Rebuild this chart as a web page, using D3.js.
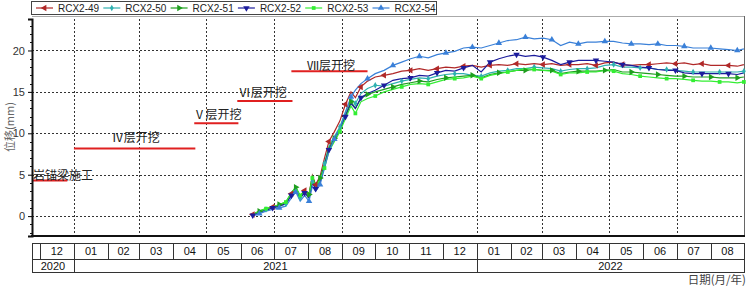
<!DOCTYPE html>
<html>
<head>
<meta charset="utf-8">
<script src="https://cdn.jsdelivr.net/npm/d3@7"></script>
<style>
  body { margin: 0; background: #fff; }
  svg { display: block; font-family: Arial, "Liberation Sans", sans-serif; }
</style>
</head>
<body>
<div id="chart"></div>
<script>
// observation dates (shared by all six points)
var dates = ["2021-06-12","2021-06-18","2021-06-24","2021-06-30","2021-07-06","2021-07-12","2021-07-17","2021-07-21",
  "2021-07-25","2021-07-29","2021-08-02","2021-08-05","2021-08-08","2021-08-12","2021-08-16","2021-08-20",
  "2021-08-25","2021-08-30","2021-09-04","2021-09-09","2021-09-13","2021-09-18","2021-09-24",
  "2021-10-01","2021-10-09","2021-10-17","2021-10-25","2021-11-02","2021-11-10","2021-11-18","2021-11-26",
  "2021-12-04","2021-12-12","2021-12-20","2021-12-28","2022-01-05","2022-01-13","2022-01-21","2022-01-29",
  "2022-02-06","2022-02-14","2022-02-22","2022-03-02","2022-03-10","2022-03-18","2022-03-26","2022-04-03",
  "2022-04-11","2022-04-19","2022-04-27","2022-05-05","2022-05-13","2022-05-21","2022-05-29","2022-06-06",
  "2022-06-14","2022-06-22","2022-06-30","2022-07-08","2022-07-16","2022-07-24","2022-08-01","2022-08-09",
  "2022-08-17","2022-08-25","2022-08-31"];

var rcx49 = [0.2,0.6,0.8,1.1,1.3,1.6,2.7,3.4,2.4,3.1,2.6,4.9,3.8,4.8,7.0,9.0,10.2,11.5,13.5,15.0,14.3,15.6,16.3,
  16.8,17.0,17.2,17.5,17.6,17.8,17.6,17.8,18.0,17.9,18.1,18.2,18.0,18.2,18.3,18.2,18.4,18.3,18.4,18.3,18.4,18.2,
  18.3,18.3,18.4,18.2,18.5,18.6,18.3,18.2,18.3,18.3,18.4,18.5,18.4,18.5,18.3,18.4,18.2,18.2,18.2,18.1,18.3];
var rcx50 = [0.1,0.5,0.8,1.0,1.2,1.5,2.6,3.2,2.2,2.9,2.3,4.2,3.5,4.3,6.4,8.4,9.6,10.8,12.6,14.2,13.6,14.8,15.4,
  15.8,15.7,16.0,16.3,16.5,16.7,16.6,16.9,17.1,17.2,17.2,17.0,16.9,17.3,17.5,17.6,17.8,17.8,18.0,17.9,17.8,17.5,
  17.7,17.8,17.8,17.9,18.2,18.3,18.0,18.0,17.9,17.9,17.7,17.7,17.6,17.5,17.4,17.4,17.4,17.4,17.4,17.4,17.5];
var rcx51 = [0.2,0.6,0.9,1.1,1.4,1.7,2.8,3.5,2.4,3.1,2.6,4.8,3.7,4.6,6.2,8.2,9.4,10.5,12.2,13.8,13.0,14.2,14.7,
  15.0,15.3,15.6,15.9,16.1,16.3,16.2,16.5,16.7,16.8,16.9,17.0,16.7,17.1,17.3,17.4,17.6,17.6,17.7,17.6,17.6,17.2,
  17.4,17.5,17.5,17.5,17.6,17.7,17.4,17.4,17.3,17.2,17.1,17.0,16.9,16.9,16.8,16.8,16.8,16.7,16.7,16.7,16.8];
var rcx52 = [0.1,0.5,0.7,1.0,1.2,1.5,2.5,3.1,2.2,2.8,2.2,4.0,3.3,4.1,6.0,8.0,9.2,10.4,12.0,13.6,13.0,14.3,14.8,
  15.2,15.8,16.4,16.6,16.7,17.0,16.9,17.3,17.6,17.5,17.9,18.2,17.4,18.6,19.0,19.3,19.5,19.3,19.4,19.2,18.8,18.3,
  18.6,18.8,18.8,18.8,18.7,18.6,18.3,18.2,18.0,17.9,17.7,17.6,17.6,17.3,17.2,17.2,17.2,17.2,17.2,17.1,17.3];
var rcx53 = [0.2,0.6,0.9,1.1,1.4,1.7,2.8,3.5,2.5,3.1,2.5,4.6,3.6,4.4,5.8,7.8,9.0,10.2,11.8,13.3,12.4,13.8,14.2,
  14.5,15.0,15.3,15.6,15.9,16.0,15.9,16.2,16.5,16.6,16.7,16.9,16.6,17.0,17.2,17.4,17.6,17.8,17.7,17.6,17.5,17.1,
  17.3,17.3,17.4,17.4,17.6,17.5,17.2,17.1,16.9,16.8,16.7,16.6,16.6,16.5,16.4,16.3,16.3,16.2,16.2,16.1,16.2];
var rcx54 = [0.0,0.3,0.6,0.8,1.0,1.2,2.2,2.9,1.8,2.5,1.8,3.6,3.0,3.8,5.8,7.8,9.3,10.6,12.5,14.4,15.2,16.0,16.6,
  17.2,17.6,18.2,18.6,19.0,19.3,19.1,19.5,19.7,19.9,20.3,20.4,20.3,20.6,20.9,21.2,21.3,21.6,21.4,21.5,21.3,20.6,
  21.0,20.8,21.0,21.0,21.1,21.1,20.9,20.8,20.8,20.7,20.8,20.6,20.6,20.5,20.3,20.3,20.3,20.2,20.1,20.0,20.2];

var seriesNames = ["RCX2-49","RCX2-50","RCX2-51","RCX2-52","RCX2-53","RCX2-54"];
var seriesValues = [rcx49, rcx50, rcx51, rcx52, rcx53, rcx54];
var seriesColors = ["#b02828","#2fb0b0","#1f9f1f","#1c1c9c","#33ee33","#3a80d8"];

var yTicks = [0, 5, 10, 15, 20];
var monthLabels = ["12","01","02","03","04","05","06","07","08","09","10","11","12","01","02","03","04","05","06","07","08"];
var yearLabels = ["2020","2021","2022"];

// construction stages: red bars
var stageLabels = ["岩锚梁施工","Ⅳ层开挖","Ⅴ层开挖","Ⅵ层开挖","Ⅶ层开挖"];
var stageStart = ["2020-11-24","2021-01-01","2021-04-20","2021-05-29","2021-07-17"];
var stageEnd = ["2020-12-26","2021-04-21","2021-05-30","2021-07-18","2021-09-24"];
var stageValue = [4.3, 8.15, 11.2, 13.9, 17.5];
var stageTextDate = ["2020-12-22","2021-02-26","2021-05-11","2021-06-21","2021-08-22"];
var stageTextValue = [4.9, 9.5, 12.3, 14.9, 18.2];

var width = 749, height = 286;
var parse = d3.utcParse("%Y-%m-%d");

var x = d3.scaleUtc()
  .domain([parse("2020-11-24"), parse("2022-09-01")])
  .range([32, 745]);
var y = d3.scaleLinear()
  .domain([-2.4, 23.8])
  .range([236, 19]);

var svg = d3.select("#chart").append("svg")
  .attr("width", width)
  .attr("height", height);

/* grid */
var grid = svg.append("g").attr("class", "grid");
grid.selectAll(".hg")
  .data(yTicks).enter()
  .append("line")
  .attr("x1", 32).attr("x2", 745)
  .attr("y1", d => Math.round(y(d)) + 0.5)
  .attr("y2", d => Math.round(y(d)) + 0.5)
  .attr("stroke", "#333")
  .attr("stroke-dasharray", "2,2");

var gridMonths = x.ticks(d3.utcMonth.every(2)).filter(d => x(d) < 740 && x(d) > 40);
grid.selectAll(".vg")
  .data(gridMonths).enter()
  .append("line")
  .attr("x1", d => Math.round(x(d)) + 0.5)
  .attr("x2", d => Math.round(x(d)) + 0.5)
  .attr("y1", 19).attr("y2", 236)
  .attr("stroke", "#333")
  .attr("stroke-dasharray", "2,2");

/* frame */
svg.append("line").attr("x1", 32).attr("x2", 745).attr("y1", 16.5).attr("y2", 16.5)
  .attr("stroke", "#aaa");
svg.append("line").attr("x1", 744.5).attr("x2", 744.5).attr("y1", 16).attr("y2", 236)
  .attr("stroke", "#666");

/* stage annotations */
var stages = svg.append("g").attr("class", "stages");
stageLabels.forEach(function(label, i) {
  stages.append("line")
    .attr("x1", x(parse(stageStart[i])))
    .attr("x2", x(parse(stageEnd[i])))
    .attr("y1", y(stageValue[i]))
    .attr("y2", y(stageValue[i]))
    .attr("stroke", "#e02020")
    .attr("stroke-width", 2);
  stages.append("text")
    .attr("x", x(parse(stageTextDate[i])))
    .attr("y", y(stageTextValue[i]))
    .attr("dy", "0.38em")
    .attr("text-anchor", "middle")
    .style("font-family", "'Noto Sans CJK SC', sans-serif")
    .style("font-size", "12px")
    .attr("fill", "#222")
    .text(label);
});

/* lines */
var line = d3.line()
  .x((d, i) => x(parse(dates[i])))
  .y(d => y(d));

var symbols = [
  d3.symbol().type(d3.symbolTriangle).size(18),
  d3.symbol().type(d3.symbolDiamond).size(12),
  d3.symbol().type(d3.symbolTriangle).size(18),
  d3.symbol().type(d3.symbolTriangle).size(18),
  d3.symbol().type(d3.symbolSquare).size(14),
  d3.symbol().type(d3.symbolTriangle).size(18)
];
var rotations = [-90, 0, 90, 180, 0, 0];

var lines = svg.append("g").attr("class", "lines");
seriesValues.forEach(function(vals, s) {
  lines.append("path")
    .attr("d", line(vals))
    .attr("fill", "none")
    .attr("stroke", seriesColors[s])
    .attr("stroke-width", 1.2);
});
seriesValues.forEach(function(vals, s) {
  lines.selectAll(".m" + s)
    .data(vals.filter((d, i) => (i + s) % 3 === 0).map(function(d) {
      return { v: d, i: vals.indexOf(d) };
    }))
    .enter();
  vals.forEach(function(v, i) {
    if ((i + s) % 3 !== 0) return;
    lines.append("path")
      .attr("d", symbols[s]())
      .attr("transform", "translate(" + x(parse(dates[i])) + "," + y(v) + ") rotate(" + rotations[s] + ")")
      .attr("fill", seriesColors[s]);
  });
});

/* axes */
var yAxis = d3.axisLeft(y).tickValues(yTicks).tickSize(4).tickPadding(3);
var yg = svg.append("g")
  .attr("transform", "translate(32,0)")
  .call(yAxis);
yg.select(".domain").attr("stroke-width", 2).attr("stroke", "#111");
yg.selectAll("text").style("font-size", "11px").attr("fill", "#333");

var minor = d3.range(-2, 24).filter(d => yTicks.indexOf(d) < 0);
svg.append("g")
  .selectAll("line")
  .data(minor).enter()
  .append("line")
  .attr("x1", 30).attr("x2", 32)
  .attr("y1", d => Math.round(y(d)) + 0.5)
  .attr("y2", d => Math.round(y(d)) + 0.5)
  .attr("stroke", "#111");

svg.append("line").attr("x1", 31).attr("x2", 745).attr("y1", 236).attr("y2", 236)
  .attr("stroke", "#111").attr("stroke-width", 2);

svg.append("text")
  .attr("transform", "translate(10," + 127 + ") rotate(-90)")
  .attr("text-anchor", "middle")
  .attr("dy", "0.35em")
  .style("font-family", "'Noto Sans CJK SC', sans-serif")
  .style("font-size", "11px")
  .attr("fill", "#666")
  .text("位移(mm)");

/* date table under the chart */
var table = svg.append("g").attr("class", "table");
var row1 = 243.5, row2 = 259.5, row3 = 272.5;
var months = d3.utcMonths(parse("2020-12-01"), parse("2022-09-01"));
var leftX = x.range()[0], rightX = x.range()[1] - 1;

table.append("rect")
  .attr("x", leftX + 0.5).attr("y", row1)
  .attr("width", rightX - leftX).attr("height", row3 - row1)
  .attr("fill", "none").attr("stroke", "#333");
table.append("line")
  .attr("x1", leftX).attr("x2", rightX).attr("y1", row2).attr("y2", row2)
  .attr("stroke", "#333");

table.selectAll(".mline")
  .data(months).enter()
  .append("line")
  .attr("x1", d => Math.round(x(d)) + 0.5)
  .attr("x2", d => Math.round(x(d)) + 0.5)
  .attr("y1", row1).attr("y2", row2)
  .attr("stroke", "#333");

table.selectAll(".mlabel")
  .data(months).enter()
  .append("text")
  .attr("x", d => (x(d) + Math.min(x(d3.utcMonth.offset(d, 1)), rightX)) / 2)
  .attr("y", (row1 + row2) / 2)
  .attr("dy", "0.36em")
  .attr("text-anchor", "middle")
  .style("font-size", "11px")
  .attr("fill", "#111")
  .text((d, i) => monthLabels[i]);

var yearStarts = [parse("2020-11-24"), parse("2021-01-01"), parse("2022-01-01")];
var yearEnds = [parse("2021-01-01"), parse("2022-01-01"), parse("2022-09-01")];
table.selectAll(".yline")
  .data(yearStarts.slice(1)).enter()
  .append("line")
  .attr("x1", d => Math.round(x(d)) + 0.5)
  .attr("x2", d => Math.round(x(d)) + 0.5)
  .attr("y1", row2).attr("y2", row3)
  .attr("stroke", "#333");
table.selectAll(".ylabel")
  .data(yearLabels).enter()
  .append("text")
  .attr("x", (d, i) => (x(yearStarts[i]) + Math.min(x(yearEnds[i]), rightX)) / 2)
  .attr("y", (row2 + row3) / 2)
  .attr("dy", "0.36em")
  .attr("text-anchor", "middle")
  .style("font-size", "11px")
  .attr("fill", "#111")
  .text(d => d);

svg.append("text")
  .attr("x", 746).attr("y", 280)
  .attr("dy", "0.36em")
  .attr("text-anchor", "end")
  .style("font-family", "'Noto Sans CJK SC', sans-serif")
  .style("font-size", "11.5px")
  .attr("fill", "#444")
  .text("日期(月/年)");

/* legend */
var legend = svg.append("g").attr("class", "legend");
legend.append("rect")
  .attr("x", 31.5).attr("y", 1.5).attr("width", 405).attr("height", 13)
  .attr("fill", "#fff").attr("stroke", "#444");
seriesNames.forEach(function(name, s) {
  var lx = 36 + s * 67.3;
  legend.append("line")
    .attr("x1", lx).attr("x2", lx + 17).attr("y1", 8).attr("y2", 8)
    .attr("stroke", seriesColors[s]).attr("stroke-width", 1.2);
  legend.append("path")
    .attr("d", symbols[s]())
    .attr("transform", "translate(" + (lx + 8.5) + ",8) rotate(" + rotations[s] + ")")
    .attr("fill", seriesColors[s]);
  legend.append("text")
    .attr("x", lx + 22).attr("y", 8).attr("dy", "0.36em")
    .style("font-size", "10px")
    .attr("fill", "#222")
    .text(name);
});
</script>
</body>
</html>
